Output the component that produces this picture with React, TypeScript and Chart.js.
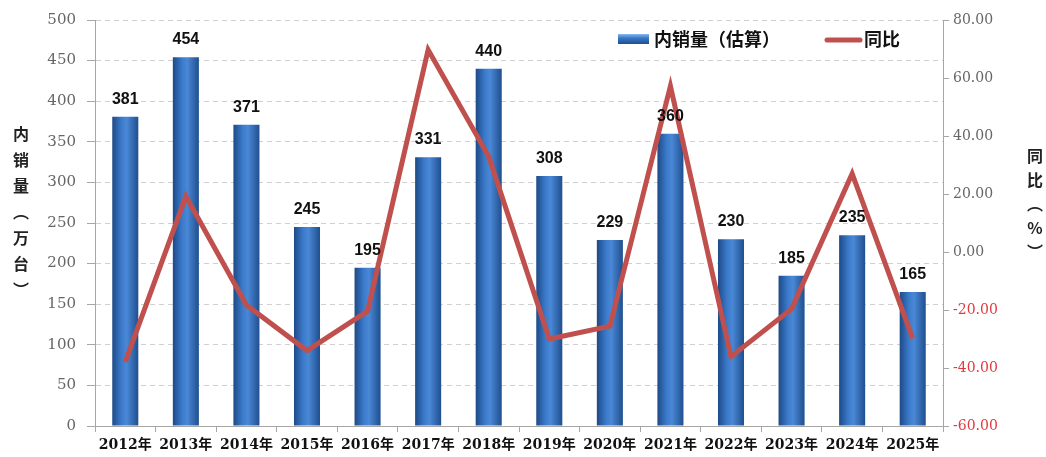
import React, { useEffect, useRef } from "react";
import { Chart, registerables } from "chart.js";

Chart.register(...registerables);

const years = ["2012年", "2013年", "2014年", "2015年", "2016年", "2017年", "2018年", "2019年", "2020年", "2021年", "2022年", "2023年", "2024年", "2025年"];
const salesValues = [381, 454, 371, 245, 195, 331, 440, 308, 229, 360, 230, 185, 235, 165];
const yoyValues = [-37.9, 19.2, -18.3, -34.0, -20.4, 69.7, 32.9, -30.0, -25.6, 57.2, -36.1, -19.6, 27.0, -29.8];
const leftTitle = ["内", "销", "量", "︵", "万", "台", "︶"];
const rightTitle = ["同", "比", "︵", "%", "︶"];
const legendLabels = ["内销量（估算）", "同比"];

const CJK = '"Noto Sans CJK SC", "DejaVu Sans", sans-serif';
const BAR_HALF = 13;

const overlayPlugin = {
  id: "overlay",
  afterDatasetsDraw(chart: any) {
    const ctx = chart.ctx;
    const meta = chart.getDatasetMeta(0);
    ctx.save();
    ctx.font = 'bold 16px "Liberation Sans", Arial, sans-serif';
    ctx.fillStyle = "#111";
    ctx.textAlign = "center";
    ctx.textBaseline = "alphabetic";
    meta.data.forEach((el: any, i: number) => {
      ctx.fillText(String(salesValues[i]), el.x, el.y - 13);
    });
    ctx.restore();
  },
  afterDraw(chart: any) {
    const ctx = chart.ctx;
    ctx.save();
    const g = ctx.createLinearGradient(0, 34, 0, 44);
    g.addColorStop(0, "#8ab8ee");
    g.addColorStop(0.4, "#3a78c6");
    g.addColorStop(1, "#1f4f8f");
    ctx.fillStyle = g;
    ctx.fillRect(618, 34, 31, 10);
    ctx.font = "bold 18px " + CJK;
    ctx.fillStyle = "#111";
    ctx.textBaseline = "middle";
    ctx.textAlign = "left";
    ctx.fillText(legendLabels[0], 654, 39);
    ctx.strokeStyle = "#c0504d";
    ctx.lineWidth = 5;
    ctx.lineCap = "round";
    ctx.beginPath();
    ctx.moveTo(827, 40);
    ctx.lineTo(860, 40);
    ctx.stroke();
    ctx.fillText(legendLabels[1], 864, 39);
    ctx.font = "bold 16px " + CJK;
    ctx.textAlign = "center";
    ctx.fillStyle = "#222";
    leftTitle.forEach((c, i) => ctx.fillText(c, 21, 134 + i * 26));
    rightTitle.forEach((c, i) => ctx.fillText(c, 1035, 156 + i * 24));
    ctx.restore();
  },
};

export default function App() {
  const ref = useRef<HTMLCanvasElement>(null);
  useEffect(() => {
    document.body.style.margin = "0";
    const canvas = ref.current!;
    const barColor = (c: any) => {
      const chart = c.chart;
      const xs = chart.scales && chart.scales.x;
      if (!xs || c.dataIndex === undefined) return "#2e6bb8";
      const cx = xs.getPixelForValue(c.dataIndex);
      if (!isFinite(cx)) return "#2e6bb8";
      const g = chart.ctx.createLinearGradient(cx - BAR_HALF, 0, cx + BAR_HALF, 0);
      g.addColorStop(0, "#1d4a86");
      g.addColorStop(0.35, "#3b7acb");
      g.addColorStop(0.55, "#4a88d6");
      g.addColorStop(1, "#1f4f8f");
      return g;
    };
    const chart = new Chart(canvas, {
      type: "bar",
      data: {
        labels: years,
        datasets: [
          {
            type: "bar",
            label: legendLabels[0],
            data: salesValues,
            backgroundColor: barColor,
            borderWidth: 0,
            barPercentage: 0.43,
            categoryPercentage: 1,
            yAxisID: "y",
            order: 2,
          } as any,
          {
            type: "line",
            label: legendLabels[1],
            data: yoyValues,
            borderColor: "#c0504d",
            borderWidth: 5,
            pointRadius: 0,
            tension: 0,
            yAxisID: "y1",
            order: 1,
          } as any,
        ],
      },
      options: {
        responsive: false,
        animation: false,
        layout: { padding: { top: 20, left: 0, right: 0, bottom: 0 } },
        plugins: { legend: { display: false }, tooltip: { enabled: false } },
        scales: {
          x: {
            afterFit: (s: any) => { s.height = 31; },
            grid: { display: true, drawOnChartArea: false, tickLength: 6, color: "#a6a6a6", offset: true },
            border: { color: "#a6a6a6" },
            ticks: {
              color: "#111",
              padding: 5,
              maxRotation: 0,
              font: { family: '"DejaVu Serif", "Noto Sans CJK SC", serif', size: 14, weight: "bold" },
            },
          },
          y: {
            position: "left",
            min: 0,
            max: 500,
            afterFit: (s: any) => { s.width = 95; },
            grid: { color: "#d0d0d0", tickLength: 8, tickColor: "#a6a6a6", tickBorderDash: [] },
            border: { color: "#a6a6a6", dash: [5, 4] },
            ticks: {
              stepSize: 50,
              color: "#666",
              padding: 11,
              font: { family: '"DejaVu Serif", serif', size: 15 },
            },
          },
          y1: {
            position: "right",
            min: -60,
            max: 80,
            afterFit: (s: any) => { s.width = 103; },
            grid: { drawOnChartArea: false, tickLength: 6, color: "#a6a6a6" },
            border: { color: "#a6a6a6" },
            ticks: {
              stepSize: 20,
              padding: 4,
              color: (c: any) => (c.tick && c.tick.value < 0 ? "#e0393e" : "#666"),
              callback: (v: any) => Number(v).toFixed(2),
              font: { family: '"DejaVu Serif", serif', size: 14 },
            },
          },
        },
      },
      plugins: [overlayPlugin],
    });
    return () => chart.destroy();
  }, []);
  return (
    <div style={{ position: "absolute", left: 0, top: 0, width: 1046, height: 457, background: "#fff" }}>
      <canvas ref={ref} width={1046} height={457} style={{ display: "block" }} />
    </div>
  );
}
